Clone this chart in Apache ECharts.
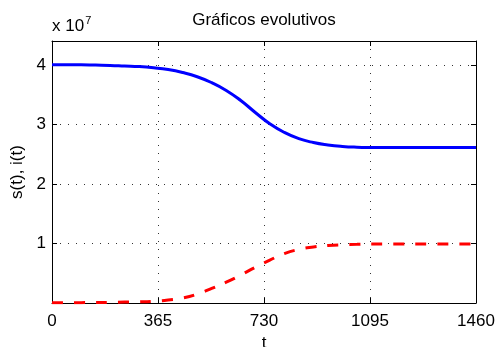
<!DOCTYPE html>
<html>
<head>
<meta charset="utf-8">
<script src="https://cdn.jsdelivr.net/npm/echarts@6/dist/echarts.min.js"></script>
<style>
  html, body { margin: 0; padding: 0; background: #fff; }
  #chart { width: 496px; height: 347px; }
</style>
</head>
<body>
<div id="chart"></div>
<script>
// Time in days
const tDays = [0, 50, 100, 150, 200, 250, 300, 350, 400, 450, 500, 550, 600, 650, 700, 750, 800, 850, 900, 950, 1000, 1050, 1100, 1150, 1200, 1300, 1460];
// s(t), in units of 10^7
const sVals = [4.00, 4.00, 4.00, 3.995, 3.99, 3.98, 3.97, 3.95, 3.92, 3.87, 3.80, 3.70, 3.57, 3.40, 3.20, 3.01, 2.865, 2.76, 2.695, 2.655, 2.63, 2.617, 2.612, 2.61, 2.61, 2.61, 2.61];
// i(t), in units of 10^7
const iVals = [0.005, 0.005, 0.006, 0.008, 0.011, 0.015, 0.02, 0.03, 0.05, 0.085, 0.15, 0.245, 0.35, 0.47, 0.60, 0.72, 0.83, 0.90, 0.94, 0.965, 0.978, 0.985, 0.99, 0.99, 0.99, 0.99, 0.99];

const xTicks = [0, 365, 730, 1095, 1460];
const yTicks = [1, 2, 3, 4];

const FONT = 'Liberation Sans';
const TICK_FS = 17;

const sData = tDays.map((t, k) => [t, sVals[k]]);
const iData = tDays.map((t, k) => [t, iVals[k]]);

const chart = echarts.init(document.getElementById('chart'), null, { renderer: 'canvas' });

const gridLine = { show: true, lineStyle: { color: '#333', width: 1, type: [1, 7] } };
const boxLine = { show: true, onZero: false, lineStyle: { color: '#000', width: 1 } };
const inTick = { show: true, inside: true, length: 5, lineStyle: { color: '#000', width: 1 } };

chart.setOption({
  animation: false,
  backgroundColor: '#fff',
  grid: { left: 52, right: 20, top: 41, bottom: 44, outerBoundsMode: 'none', containLabel: false },
  graphic: [
    {
      type: 'text', x: 264, y: 20,
      style: {
        text: 'Gráficos evolutivos',
        font: '17px "' + FONT + '"', fill: '#000',
        textAlign: 'center', textVerticalAlign: 'middle'
      }
    },
    {
      type: 'text', x: 52, y: 25,
      style: {
        text: '{a|x 10}{b|7}',
        rich: {
          a: { fontFamily: FONT, fontSize: 17, fill: '#000', verticalAlign: 'bottom', lineHeight: 20 },
          b: { fontFamily: FONT, fontSize: 11, fill: '#000', verticalAlign: 'top', lineHeight: 20, padding: [0, 0, 10, 1] }
        },
        textVerticalAlign: 'middle'
      }
    }
  ],
  xAxis: [
    {
      type: 'value', min: 0, max: 1460, interval: 365,
      name: 't', nameLocation: 'middle', nameGap: 30,
      nameTextStyle: { fontFamily: FONT, fontSize: TICK_FS, color: '#000' },
      axisLine: boxLine, axisTick: inTick,
      axisLabel: {
        fontFamily: FONT, fontSize: TICK_FS, color: '#000', margin: 10,
        formatter: v => (xTicks.includes(v) ? String(v) : '')
      },
      splitLine: gridLine
    },
    {
      type: 'value', position: 'top', min: 0, max: 1460, interval: 365,
      axisLine: boxLine, axisTick: inTick, axisLabel: { show: false }, splitLine: { show: false }
    }
  ],
  yAxis: [
    {
      type: 'value', min: 0, max: 4.4, interval: 1,
      name: 's(t), i(t)', nameLocation: 'middle', nameGap: 26, nameRotate: 90,
      nameTextStyle: { fontFamily: FONT, fontSize: TICK_FS, color: '#000' },
      axisLine: boxLine, axisTick: inTick,
      axisLabel: {
        fontFamily: FONT, fontSize: TICK_FS, color: '#000', margin: 6,
        formatter: v => (yTicks.includes(v) ? String(v) : '')
      },
      splitLine: gridLine
    },
    {
      type: 'value', position: 'right', min: 0, max: 4.4, interval: 1,
      axisLine: boxLine, axisTick: inTick, axisLabel: { show: false }, splitLine: { show: false }
    }
  ],
  series: [
    {
      name: 's(t)', type: 'line', xAxisIndex: 0, yAxisIndex: 0,
      data: sData, showSymbol: false, smooth: 0.5,
      lineStyle: { color: '#0000ff', width: 3 }, z: 3
    },
    {
      name: 'i(t)', type: 'line', xAxisIndex: 0, yAxisIndex: 0,
      data: iData, showSymbol: false, smooth: 0.5,
      lineStyle: { color: '#ff0000', width: 3, type: [11, 11] }, z: 3
    }
  ]
});
</script>
</body>
</html>
